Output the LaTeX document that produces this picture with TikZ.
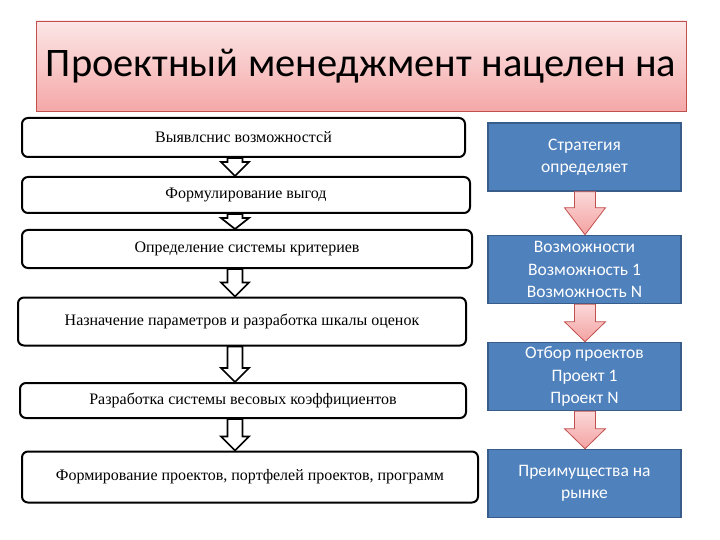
\documentclass[tikz,border=0pt]{standalone}
\usepackage{fontspec}
\setmainfont{Liberation Serif}
\newfontfamily\calib{Carlito}
\usetikzlibrary{calc}
\definecolor{titletop}{HTML}{FCE6E6}
\definecolor{titlebot}{HTML}{F5A8A8}
\definecolor{redline}{HTML}{C0504D}
\definecolor{bluefill}{HTML}{4F81BD}
\definecolor{blueline}{HTML}{385D8A}
\definecolor{arrtop}{HTML}{FBD8D8}
\definecolor{arrbot}{HTML}{F4A2A2}
\tikzset{
  titlebox/.style={draw=redline, line width=0.8pt, top color=titletop, bottom color=titlebot,
    minimum width=650pt, minimum height=90pt, inner sep=0pt,
    font=\calib\fontsize{40.5}{44}\selectfont},
  stepbox/.style={draw=black, line width=2pt, rounded corners=6pt, fill=white, inner sep=0pt,
    font=\fontsize{16}{19}\selectfont},
  bluebox/.style={draw=blueline, line width=1.5pt, fill=bluefill, text=white,
    minimum width=193pt, minimum height=68pt, inner sep=0pt, align=center,
    font=\calib\fontsize{17.5}{22.5}\selectfont},
  hollowarr/.style={draw=black, line width=1.7pt, fill=white, line join=miter},
  pinkarr/.style={draw=redline, line width=0.8pt, top color=arrtop, bottom color=arrbot}
}
% #1 style, #2 from, #3 to, #4 shaft half, #5 head half, #6 head length, #7 x coordinate
\newcommand\blockarr[7]{%
  \path[#1] ($(#2.south -| #7)+(-#4,0)$) -- ($(#3.north -| #7)+(-#4,-#6)$)
    -- ($(#3.north -| #7)+(-#5,-#6)$) -- (#3.north -| #7)
    -- ($(#3.north -| #7)+(#5,-#6)$) -- ($(#3.north -| #7)+(#4,-#6)$)
    -- ($(#2.south -| #7)+(#4,0)$) -- cycle;}
\begin{document}
\begin{tikzpicture}[x=1pt,y=-1pt]
\useasboundingbox (0,0) rectangle (720,540);
\fill[white] (0,0) rectangle (720,540);
\node[titlebox] (title) at (361,66) {\raisebox{-5pt}{Проектный менеджмент нацелен на}};

\node[stepbox, minimum width=443pt, minimum height=39pt] (s1) at (243.5,137.5) {Выявлснис возможностсй};
\node[stepbox, minimum width=448pt, minimum height=36pt] (s2) at (246,195) {Формулирование выгод};
\node[stepbox, minimum width=450pt, minimum height=38pt] (s3) at (247,249) {Определение системы критериев};
\node[stepbox, minimum width=448pt, minimum height=48pt] (s4) at (242,321.5) {Назначение параметров и разработка шкалы оценок};
\node[stepbox, minimum width=446pt, minimum height=35pt] (s5) at (243,400.5) {Разработка системы весовых коэффициентов};
\node[stepbox, minimum width=456pt, minimum height=51pt] (s6) at (250,477) {Формирование проектов, портфелей проектов, программ};

\coordinate (ax) at (235,0);
\blockarr{hollowarr}{s1}{s2}{7.5}{14}{14}{ax}
\blockarr{hollowarr}{s2}{s3}{7.5}{14}{11}{ax}
\blockarr{hollowarr}{s3}{s4}{7.5}{14}{14}{ax}
\blockarr{hollowarr}{s4}{s5}{7.5}{14}{14}{ax}
\blockarr{hollowarr}{s5}{s6}{7.5}{14}{14}{ax}

\node[bluebox] (b1) at (584.5,157) {\raisebox{-4pt}{\begin{tabular}{@{}c@{}}Стратегия\\определяет\end{tabular}}};
\node[bluebox] (b2) at (584.5,269.5) {Возможности\\Возможность 1\\Возможность N};
\node[bluebox] (b3) at (584.5,376.5) {Отбор проектов\\Проект 1\\Проект N};
\node[bluebox] (b4) at (584.5,483.5) {Преимущества на\\рынке};

\coordinate (bx) at (585,0);
\blockarr{pinkarr}{b1}{b2}{10.5}{20.5}{27}{bx}
\blockarr{pinkarr}{b2}{b3}{10.5}{20.5}{20}{bx}
\blockarr{pinkarr}{b3}{b4}{10.5}{20.5}{20}{bx}
\end{tikzpicture}
\end{document}
